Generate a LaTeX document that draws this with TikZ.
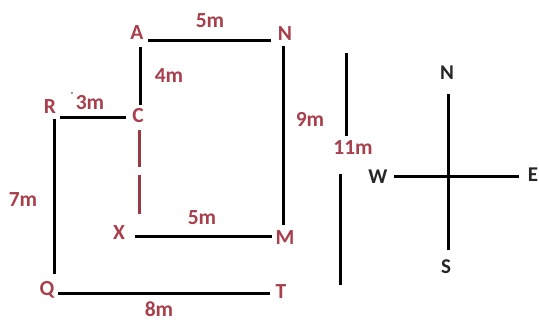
\documentclass[tikz,border=0pt]{standalone}
\usepackage{fontspec}
\setmainfont{Carlito}
\definecolor{lbl}{HTML}{A8404C}
\tikzset{
  x=1pt,y=-1pt,
  wire/.style={line width=3pt,black},
  redwire/.style={line width=3pt,draw=lbl!90!black},
  lab/.style={font=\bfseries\fontsize{21.5}{23}\selectfont,text=lbl,inner sep=0pt},
  dir/.style={font=\bfseries\fontsize{21}{23}\selectfont,text=black!85,inner sep=0pt}
}
\begin{document}
\begin{tikzpicture}
\useasboundingbox (0,0) rectangle (539,322);
\node[lab] (A) at (137,33) {A};
\node[lab] (N) at (285,34) {N};
\node[lab] (R) at (50,107) {R};
\node[lab] (C) at (138,116) {C};
\node[lab] (X) at (119,233) {X};
\node[lab] (M) at (285,238) {M};
\node[lab] (Q) at (47,290) {Q};
\node[lab] (T) at (281,292) {T};
\node[lab] (d5a) at (210,21) {5m};
\node[lab] (d4) at (169,76) {4m};
\node[lab] (d3) at (90,103) {3m};
\node[lab] (d9) at (310,119) {9m};
\node[lab] (d11) at (353,148) {11m};
\node[lab] (d7) at (23,200) {7m};
\node[lab] (d5b) at (202,218) {5m};
\node[lab] (d8) at (159,309.5) {8m};
\node[dir] (cn) at (447,73) {N};
\node[dir] (cw) at (378,177) {W};
\node[dir] (ce) at (533,175) {E};
\node[dir] (cs) at (446,267) {S};
\coordinate (an) at (148,40); \coordinate (na) at (271,40);
\coordinate (ac) at (140,47); \coordinate (ca) at (140,105);
\coordinate (rc) at (60,117); \coordinate (cr) at (126,117);
\coordinate (rq) at (54,119); \coordinate (qr) at (54,274);
\coordinate (qt) at (58,293); \coordinate (tq) at (270,293);
\coordinate (xm) at (135,236); \coordinate (mx) at (272,236);
\coordinate (nm) at (283,46); \coordinate (mn) at (283,225);
\coordinate (ea) at (346.5,53); \coordinate (eb) at (346.5,136);
\coordinate (ec) at (340,174); \coordinate (ed) at (340,285);
\coordinate (cnn) at (448,94); \coordinate (css) at (448,250);
\coordinate (cww) at (394,176); \coordinate (cee) at (519,176);
\coordinate (x1) at (139.5,130); \coordinate (x2) at (139.5,167);
\coordinate (x3) at (139.5,175); \coordinate (x4) at (139.5,214);
\draw[wire] (an)--(na); \draw[wire] (ac)--(ca); \draw[wire] (rc)--(cr);
\draw[wire] (rq)--(qr); \draw[wire] (qt)--(tq); \draw[wire] (xm)--(mx);
\draw[wire] (nm)--(mn); \draw[wire] (ea)--(eb); \draw[wire] (ec)--(ed);
\draw[wire] (cnn)--(css); \draw[wire] (cww)--(cee);
\draw[redwire] (x1)--(x2); \draw[redwire] (x3)--(x4);
\fill[black!80] (72,93) circle (0.8);
\end{tikzpicture}
\end{document}
